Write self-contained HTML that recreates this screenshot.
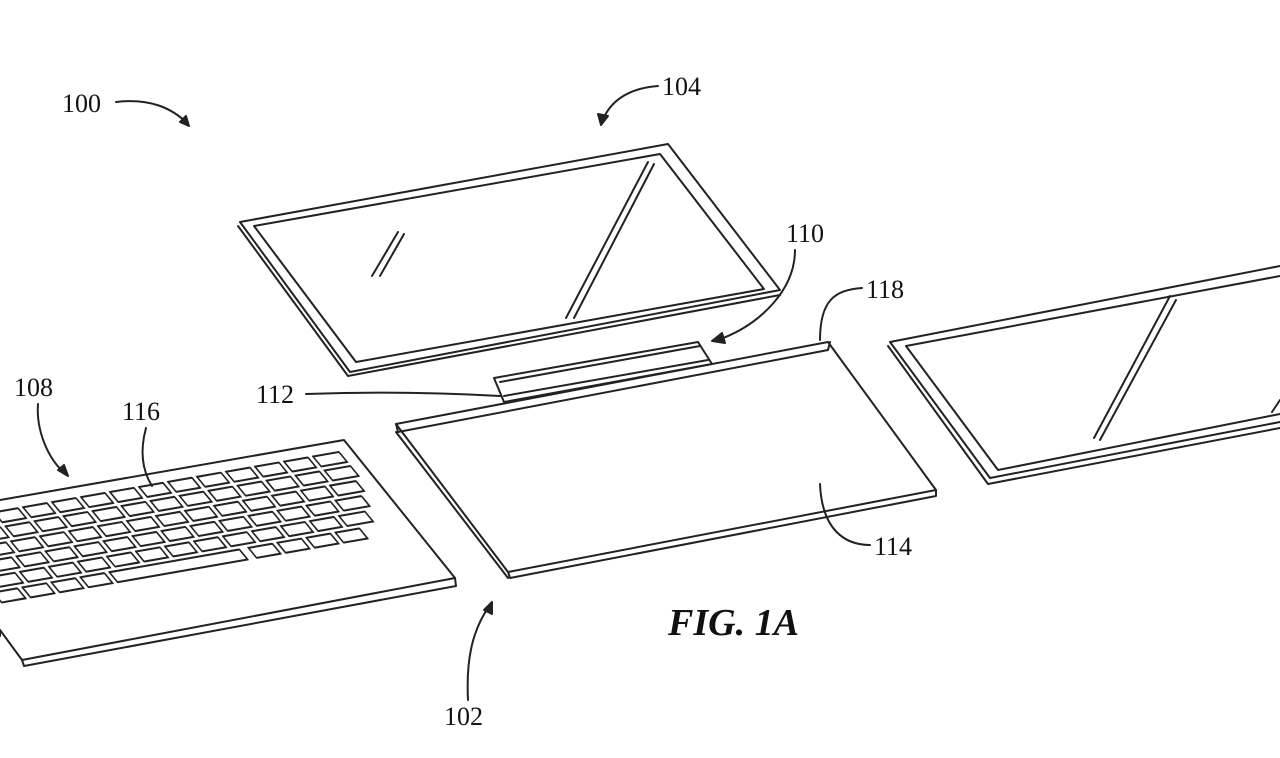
<!DOCTYPE html>
<html><head><style>
html,body{margin:0;padding:0;background:#fff;width:1280px;height:758px;overflow:hidden}
svg{display:block}
text{font-family:"Liberation Serif",serif;fill:#111}
</style></head><body>
<svg width="1280" height="758" viewBox="0 0 1280 758" xmlns="http://www.w3.org/2000/svg" fill="none" stroke="#222" stroke-width="2" stroke-linejoin="round" stroke-linecap="round">
<g stroke="none" font-size="26">
<text x="62" y="112">100</text>
<text x="662" y="95">104</text>
<text x="786" y="242">110</text>
<text x="866" y="298">118</text>
<text x="256" y="403">112</text>
<text x="14" y="396">108</text>
<text x="122" y="420">116</text>
<text x="874" y="555">114</text>
<text x="444" y="725">102</text>
<text x="668" y="635" font-size="38" font-style="italic" font-weight="bold">FIG. 1A</text>
</g>
<path d="M116 102 C150 98 172 108 188 124"/><path d="M180 122 L189 126 L186 116Z" fill="#222"/>
<path d="M658 86 C630 88 610 100 602 122"/><path d="M598 114 L601 125 L608 116Z" fill="#222"/>
<path d="M795 250 C795 290 760 325 718 340"/><path d="M722 333 L712 341 L725 343Z" fill="#222"/>
<path d="M862 288 C835 290 820 300 820 340"/>
<path d="M306 394 C360 392 430 392 500 396"/>
<path d="M38 404 C36 430 48 460 66 474"/><path d="M58 470 L68 476 L64 465Z" fill="#222"/>
<path d="M146 428 C140 450 142 470 152 486"/>
<path d="M870 545 C845 545 822 530 820 484"/>
<path d="M468 700 C466 660 472 630 490 605"/><path d="M484 610 L492 602 L492 614Z" fill="#222"/>
<!-- top screen -->
<path d="M240 222 L668 144 L780 290 L350 372 Z"/>
<path d="M238 226 L348 376 L780 295"/>
<path d="M254 226 L660 154 L764 289 L356 362 Z"/>
<path d="M372 276 L398 232 M380 276 L404 234 M566 318 L648 162 M574 318 L654 164"/>
<!-- base -->
<path d="M396 424 L828 342 L936 490 L508 572 Z"/>
<path d="M396 424 L398 432 L828 350 L830 342 M936 490 L936 496 L510 578 L508 572 M396 432 L508 578"/>
<path d="M494 378 L698 342 L712 364 L504 402 Z"/>
<path d="M500 382 L700 346 M504 396 L708 360"/>
<!-- right screen -->
<path d="M890 342 L1280 266 M890 342 L990 478 L1280 422"/>
<path d="M888 346 L988 484 L1280 428"/>
<path d="M906 346 L1280 276 M906 346 L998 470 L1280 414"/>
<path d="M1094 438 L1170 296 M1100 440 L1176 300 M1272 412 L1280 400"/>
<!-- keyboard -->
<path d="M0 500 L344 440 L455 578 L22 660 L0 630"/>
<path d="M455 578 L456 586 L24 666 L22 660 M0 630 L0 636"/>
<g transform="matrix(1,-0.175,0.82,1,-4,512)" stroke-width="1.8">
<g id="r0"><rect x="-60" y="0" width="24" height="10"/><rect x="-31" y="0" width="24" height="10"/><rect x="-2" y="0" width="24" height="10"/><rect x="27" y="0" width="24" height="10"/><rect x="56" y="0" width="24" height="10"/><rect x="85" y="0" width="24" height="10"/><rect x="114" y="0" width="24" height="10"/><rect x="143" y="0" width="24" height="10"/><rect x="172" y="0" width="24" height="10"/><rect x="201" y="0" width="24" height="10"/><rect x="230" y="0" width="24" height="10"/><rect x="259" y="0" width="24" height="10"/><rect x="288" y="0" width="24" height="10"/><rect x="317" y="0" width="26" height="10"/></g>
<use href="#r0" y="14"/>
<use href="#r0" y="28" x="-6"/>
<use href="#r0" y="42" x="-12"/>
<use href="#r0" y="56" x="-20"/>
<g transform="translate(0,70)"><rect x="-60" y="0" width="24" height="10"/><rect x="-31" y="0" width="24" height="10"/><rect x="-2" y="0" width="24" height="10"/><rect x="27" y="0" width="24" height="10"/><rect x="56" y="0" width="130" height="10"/><rect x="195" y="0" width="24" height="10"/><rect x="224" y="0" width="24" height="10"/><rect x="253" y="0" width="24" height="10"/><rect x="282" y="0" width="24" height="10"/></g>
</g>
</svg>
</body></html>
